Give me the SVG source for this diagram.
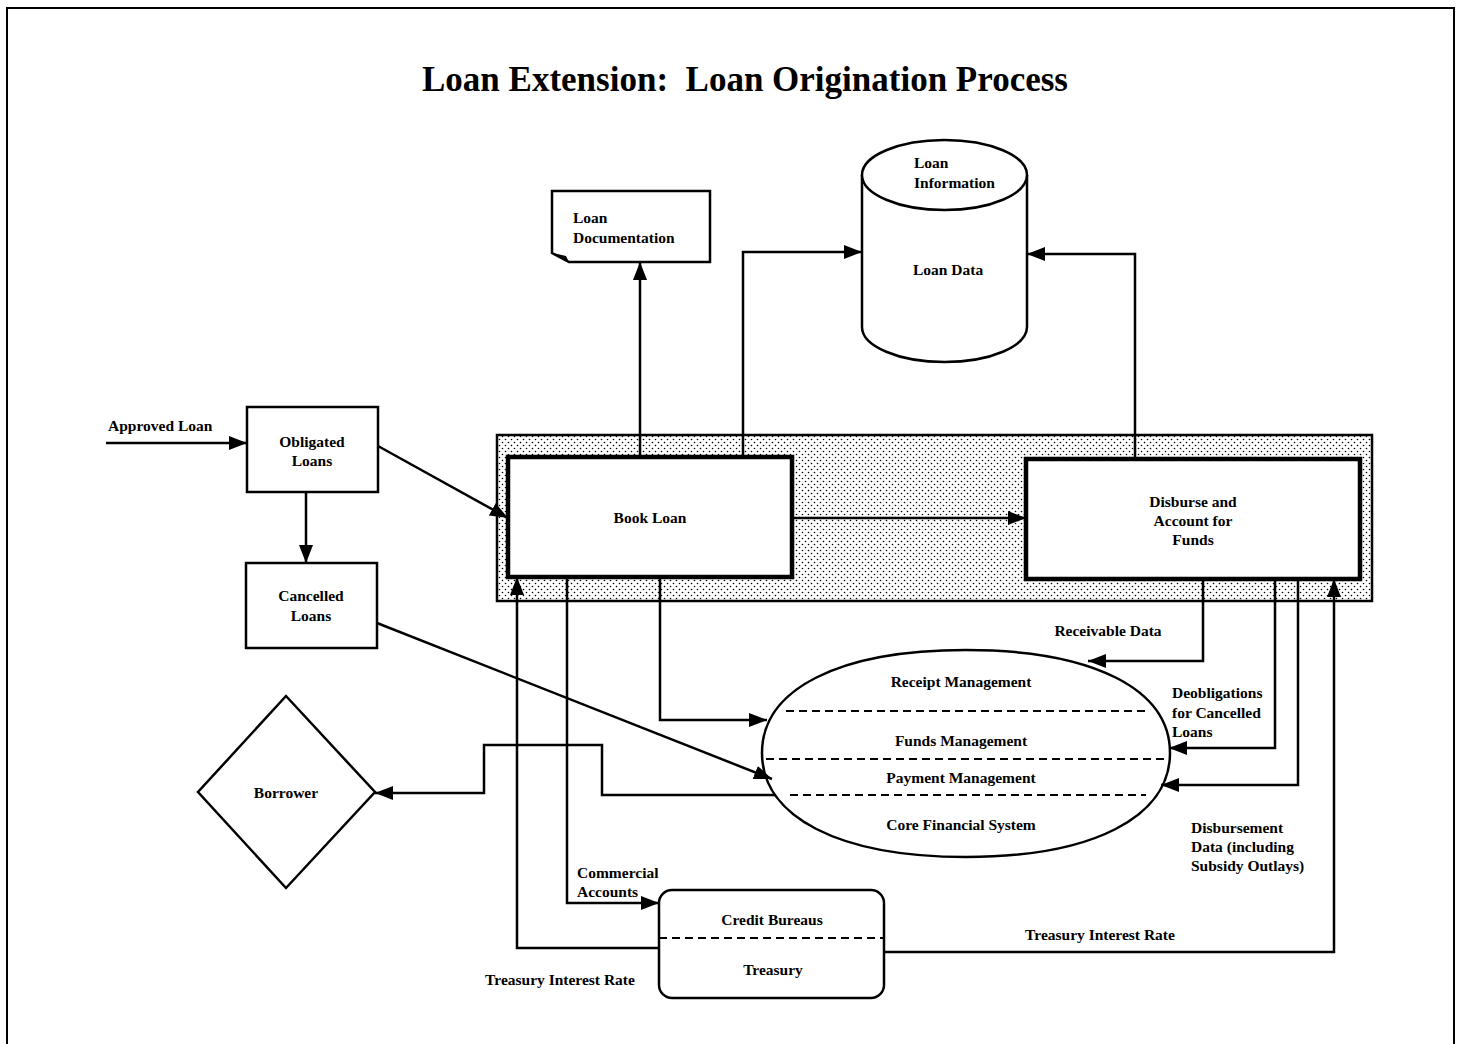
<svg xmlns="http://www.w3.org/2000/svg" width="1458" height="1044" viewBox="0 0 1458 1044">
<defs>
<style>
text{font-family:"Liberation Serif","Times New Roman",serif;font-weight:bold;font-size:15.5px;fill:#000}
.c{text-anchor:middle}
.title{font-size:35px;white-space:pre}
.ln{fill:none;stroke:#000;stroke-width:2.5}
.box{fill:#fff;stroke:#000;stroke-width:2.5}
.proc{fill:#fff;stroke:#000;stroke-width:4.5}
.dash{fill:none;stroke:#000;stroke-width:2;stroke-dasharray:8 5}
</style>
<pattern id="dots" width="6" height="6" patternUnits="userSpaceOnUse">
<rect width="6" height="6" fill="#fff"/>
<circle cx="1.5" cy="1.5" r="0.8" fill="#000"/>
<circle cx="4.5" cy="4.5" r="0.8" fill="#000"/>
</pattern>
<marker id="ah" markerUnits="userSpaceOnUse" markerWidth="20" markerHeight="16" refX="18" refY="8" orient="auto">
<path d="M0,1 L18,8 L0,15 Z" fill="#000"/>
</marker>
</defs>
<rect x="7" y="8" width="1447" height="1060" fill="#fff" stroke="#000" stroke-width="2"/>
<text class="title c" x="745" y="91" xml:space="preserve">Loan Extension:  Loan Origination Process</text>

<g id="process-area">
<rect x="497" y="435" width="875" height="166" fill="url(#dots)" stroke="#000" stroke-width="2.5"/>
</g>

<g id="obligated-loans">
<rect class="box" x="247" y="407" width="131" height="85"/>
<text class="c" x="312" y="447">Obligated</text>
<text class="c" x="312" y="466">Loans</text>
</g>

<g id="cancelled-loans">
<rect class="box" x="246" y="563" width="131" height="85"/>
<text class="c" x="311" y="601">Cancelled</text>
<text class="c" x="311" y="621">Loans</text>
</g>

<g id="book-loan">
<rect class="proc" x="508" y="457" width="284" height="120"/>
<text class="c" x="650" y="523">Book Loan</text>
</g>

<g id="disburse">
<rect class="proc" x="1026" y="459" width="334" height="120"/>
<text class="c" x="1193" y="507">Disburse and</text>
<text class="c" x="1193" y="526">Account for</text>
<text class="c" x="1193" y="545">Funds</text>
</g>

<g id="loan-documentation">
<path class="box" d="M552,191 H710 V262 H569 L552,253 Z"/>
<path d="M553,253 L569,262 L566,256 Z" fill="#000"/>
<text x="573" y="223">Loan</text>
<text x="573" y="243">Documentation</text>
</g>

<g id="loan-information">
<path class="box" d="M862,175 V327 A82.5,35 0 0 0 1027,327 V175"/>
<ellipse class="box" cx="944.5" cy="175" rx="82.5" ry="35"/>
<text x="914" y="168">Loan</text>
<text x="914" y="188">Information</text>
<text x="913" y="275">Loan Data</text>
</g>

<g id="core-financial-system">
<path class="box" d="M762,753 C762,689 839,650 966,650 C1093,650 1170,689 1170,753 C1170,817 1093,857 966,857 C839,857 762,817 762,753 Z"/>
<line class="dash" x1="786" y1="711" x2="1145" y2="711"/>
<line class="dash" x1="766" y1="759" x2="1167" y2="759"/>
<line class="dash" x1="790" y1="795" x2="1146" y2="795"/>
<text class="c" x="961" y="687">Receipt Management</text>
<text class="c" x="961" y="746">Funds Management</text>
<text class="c" x="961" y="783">Payment Management</text>
<text class="c" x="961" y="830">Core Financial System</text>
</g>

<g id="borrower">
<path class="box" d="M286,696 L375,792 L286,888 L198,792 Z"/>
<text class="c" x="286" y="798">Borrower</text>
</g>

<g id="credit-treasury">
<rect class="box" x="659" y="890" width="225" height="108" rx="13"/>
<line class="dash" x1="659" y1="938" x2="884" y2="938"/>
<text class="c" x="772" y="925">Credit Bureaus</text>
<text class="c" x="773" y="975">Treasury</text>
</g>

<g id="connectors">
<path class="ln" d="M106,443 H247" marker-end="url(#ah)"/>
<path class="ln" d="M306,492 V563" marker-end="url(#ah)"/>
<path class="ln" d="M378,446 L508,518" marker-end="url(#ah)"/>
<path class="ln" d="M792,518 H1026" marker-end="url(#ah)"/>
<path class="ln" d="M640,457 V262" marker-end="url(#ah)"/>
<path class="ln" d="M743,457 V252 H862" marker-end="url(#ah)"/>
<path class="ln" d="M1135,459 V254 H1027" marker-end="url(#ah)"/>
<path class="ln" d="M660,577 V720 H767" marker-end="url(#ah)"/>
<path class="ln" d="M567,577 V903 H659" marker-end="url(#ah)"/>
<path class="ln" d="M659,948 H517 V577" marker-end="url(#ah)"/>
<path class="ln" d="M377,623 L772,779" marker-end="url(#ah)"/>
<path class="ln" d="M775,795 H602 V745 H484 V793 H375" marker-end="url(#ah)"/>
<path class="ln" d="M1203,579 V661 H1088" marker-end="url(#ah)"/>
<path class="ln" d="M1275,579 V748 H1169" marker-end="url(#ah)"/>
<path class="ln" d="M1298,579 V785 H1161" marker-end="url(#ah)"/>
<path class="ln" d="M884,952 H1334 V579" marker-end="url(#ah)"/>
<text x="108" y="431">Approved Loan</text>
<text class="c" x="1108" y="636">Receivable Data</text>
<text x="1172" y="698">Deobligations</text>
<text x="1172" y="718">for Cancelled</text>
<text x="1172" y="737">Loans</text>
<text x="1191" y="833">Disbursement</text>
<text x="1191" y="852">Data (including</text>
<text x="1191" y="871">Subsidy Outlays)</text>
<text x="577" y="878">Commercial</text>
<text x="577" y="897">Accounts</text>
<text class="c" x="560" y="985">Treasury Interest Rate</text>
<text class="c" x="1100" y="940">Treasury Interest Rate</text>
</g>
</svg>
